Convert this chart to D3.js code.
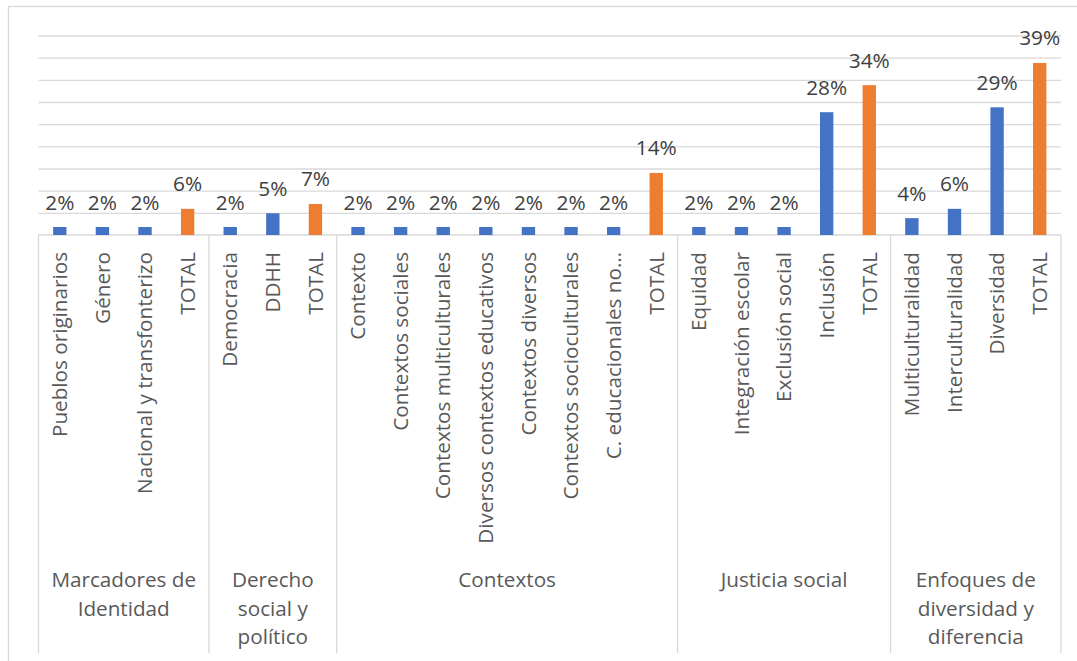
<!DOCTYPE html>
<html>
<head>
<meta charset="utf-8">
<script src="https://cdn.jsdelivr.net/npm/d3@7"></script>
<style>
  html, body { margin: 0; padding: 0; background: #fff; }
  svg { display: block; font-family: "Open Sans", "Liberation Sans", sans-serif; }
</style>
</head>
<body>
<div id="chart"></div>
<script>
// Groups (outer category level) and how many items each holds
const groupNames = ['Marcadores de Identidad', 'Derecho social y político', 'Contextos', 'Justicia social', 'Enfoques de diversidad y diferencia'];
const groupLabelLines = [
  ['Marcadores de', 'Identidad'],
  ['Derecho', 'social y', 'político'],
  ['Contextos'],
  ['Justicia social'],
  ['Enfoques de', 'diversidad y', 'diferencia']
];
const groupSizes = [4, 3, 8, 5, 4];

// Inner categories, in order
const categories = [
  'Pueblos originarios', 'Género', 'Nacional y transfonterizo', 'TOTAL',
  'Democracia', 'DDHH', 'TOTAL',
  'Contexto', 'Contextos sociales', 'Contextos multiculturales', 'Diversos contextos educativos',
  'Contextos diversos', 'Contextos socioculturales', 'C. educacionales no…', 'TOTAL',
  'Equidad', 'Integración escolar', 'Exclusión social', 'Inclusión', 'TOTAL',
  'Multiculturalidad', 'Interculturalidad', 'Diversidad', 'TOTAL'
];
const values = [
  0.018, 0.018, 0.018, 0.059,
  0.018, 0.049, 0.070,
  0.018, 0.018, 0.018, 0.018, 0.018, 0.018, 0.018, 0.140,
  0.018, 0.018, 0.018, 0.277, 0.338,
  0.038, 0.059, 0.288, 0.388
];
const yTicks = [0.05, 0.10, 0.15, 0.20, 0.25, 0.30, 0.35, 0.40, 0.45];

const W = 1077, H = 661;
const plot = { left: 38.5, right: 1061, top: 35.5, bottom: 235 };
const sepBottom = 653;

const blue = '#4472C4', orange = '#ED7D31', gridColor = '#d9d9d9';

const data = categories.map((c, i) => ({ key: i, name: c, value: values[i], total: c === 'TOTAL' }));

const svg = d3.select('#chart').append('svg').attr('width', W).attr('height', H);

// chart area border
svg.append('rect')
  .attr('x', 8.5).attr('y', 6.5).attr('width', 1090).attr('height', 680)
  .attr('fill', '#fff').attr('stroke', gridColor).attr('stroke-width', 1.3);

const x = d3.scaleBand().domain(data.map(d => d.key)).range([plot.left, plot.right]).padding(0);
const y = d3.scaleLinear().domain([0, 0.45]).range([plot.bottom, plot.top]);

// gridlines (no tick labels)
const grid = svg.append('g')
  .attr('transform', `translate(${plot.left},0)`)
  .call(d3.axisLeft(y).tickValues(yTicks).tickSize(-(plot.right - plot.left)).tickFormat(''));
grid.select('.domain').remove();
grid.selectAll('line').attr('stroke', gridColor).attr('stroke-width', 1.3);

// baseline
svg.append('line')
  .attr('x1', plot.left).attr('x2', plot.right)
  .attr('y1', y(0)).attr('y2', y(0))
  .attr('stroke', gridColor).attr('stroke-width', 1.3);

// group separators
let start = 0;
const groups = groupSizes.map((n, i) => {
  const g = { name: groupNames[i], lines: groupLabelLines[i], first: start, last: start + n - 1 };
  start += n;
  return g;
});
const sepXs = [plot.left].concat(groups.map(g => x(g.last) + x.bandwidth()));
svg.append('g').selectAll('line').data(sepXs).join('line')
  .attr('x1', d => d).attr('x2', d => d)
  .attr('y1', y(0)).attr('y2', sepBottom)
  .attr('stroke', gridColor).attr('stroke-width', 1.3);

// bars
const barW = x.bandwidth() / 3.19;
svg.append('g').selectAll('rect').data(data).join('rect')
  .attr('x', d => x(d.key) + (x.bandwidth() - barW) / 2)
  .attr('y', d => y(d.value))
  .attr('width', barW)
  .attr('height', d => y(0) - y(d.value))
  .attr('fill', d => d.total ? orange : blue);

// value labels
const fmt = d3.format('.0%');
svg.append('g').selectAll('text').data(data).join('text')
  .attr('x', d => x(d.key) + x.bandwidth() / 2)
  .attr('y', d => y(d.value) - 17.5)
  .attr('text-anchor', 'middle')
  .attr('fill', '#404040')
  .style('font-size', '20.8px')
  .text(d => fmt(d.value));

// category labels (rotated)
svg.append('g').selectAll('text').data(data).join('text')
  .attr('transform', d => `translate(${x(d.key) + x.bandwidth() / 2},252) rotate(-90)`)
  .attr('text-anchor', 'end')
  .attr('dy', '0.35em')
  .attr('fill', '#595959')
  .style('font-size', '20.7px')
  .text(d => d.name);

// group labels
const gl = svg.append('g').selectAll('text').data(groups).join('text')
  .attr('x', g => (x(g.first) + x(g.last) + x.bandwidth()) / 2)
  .attr('y', 580)
  .attr('text-anchor', 'middle')
  .attr('fill', '#595959')
  .style('font-size', '20.7px');
gl.selectAll('tspan').data(g => g.lines).join('tspan')
  .attr('x', function () { return d3.select(this.parentNode).attr('x'); })
  .attr('dy', (d, i) => i === 0 ? '0.35em' : '28.5px')
  .text(d => d);
</script>
</body>
</html>
